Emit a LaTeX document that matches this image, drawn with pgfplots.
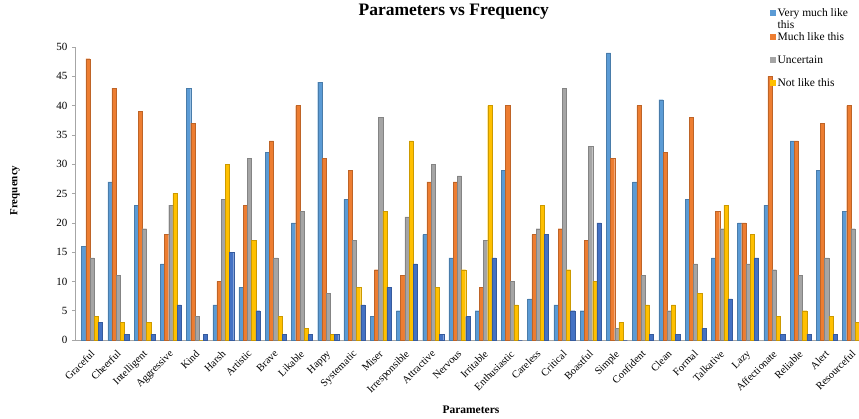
\documentclass[border=0pt]{standalone}
\usepackage{pgfplots}
\pgfplotsset{compat=1.18}
\usepackage{pgfplotstable}
\usepackage{fontspec}
\setmainfont{Liberation Serif}
\definecolor{c1}{HTML}{5B9BD5}
\definecolor{c2}{HTML}{ED7D31}
\definecolor{c3}{HTML}{A5A5A5}
\definecolor{c4}{HTML}{FFC000}
\definecolor{c5}{HTML}{4472C4}
\pgfplotstableread{
idx vm ml un nl na
0 16 48 14 4 3
1 27 43 11 3 1
2 23 39 19 3 1
3 13 18 23 25 6
4 43 37 4 0 1
5 6 10 24 30 15
6 9 23 31 17 5
7 32 34 14 4 1
8 20 40 22 2 1
9 44 31 8 1 1
10 24 29 17 9 6
11 4 12 38 22 9
12 5 11 21 34 13
13 18 27 30 9 1
14 14 27 28 12 4
15 5 9 17 40 14
16 29 40 10 6 0
17 7 18 19 23 18
18 6 19 43 12 5
19 5 17 33 10 20
20 49 31 2 3 0
21 27 40 11 6 1
22 41 32 5 6 1
23 24 38 13 8 2
24 14 22 19 23 7
25 20 20 13 18 14
26 23 45 12 4 1
27 34 34 11 5 1
28 29 37 14 4 1
29 22 40 19 3 0
}\datatable
\begin{document}
\begin{tikzpicture}
\useasboundingbox (-75bp,-79bp) rectangle (784bp,340bp);
\begin{axis}[
  at={(0,0)}, anchor=south west,
  scale only axis,
  width=784bp, height=293bp,
  ybar=0pt, bar width=0.16,
  xmin=-0.65, xmax=29.23,
  ymin=0, ymax=50,
  ytick={0,5,...,50},
  xtick=data,
  xticklabels={Graceful,Cheerful,Intelligent,Aggressive,Kind,Harsh,Artistic,Brave,Likable,Happy,Systematic,Miser,Irresponsible,Attractive,Nervous,Irritable,Enthusiastic,Careless,Critical,Boastful,Simple,Confident,Clean,Formal,Talkative,Lazy,Affectionate,Reliable,Alert,Resourceful},
  x tick label style={rotate=45, anchor=north east, font=\fontsize{10.5bp}{12bp}\selectfont, inner sep=1pt, yshift=-2bp, xshift=-5bp},
  y tick label style={font=\fontsize{11bp}{13bp}\selectfont, xshift=-1bp},
  /pgf/number format/assume math mode=true,
  major tick length=3bp, tick align=outside,
  xtick style={draw=none},
  ytick style={draw=gray!70, line width=0.5pt},
  axis x line*=bottom, axis y line*=left,
  x axis line style={draw=gray!70, -},
  y axis line style={draw=gray!70, -},
  title={Parameters vs Frequency},
  title style={font=\fontsize{17.5bp}{20bp}\selectfont\bfseries, at={(axis description cs:0.483,1.099)}, anchor=center},
  xlabel={Parameters},
  xlabel style={font=\fontsize{11.5bp}{13bp}\selectfont\bfseries, at={(axis description cs:0.505,-0.239)}, anchor=center},
  ylabel={Frequency},
  ylabel style={font=\fontsize{11bp}{13bp}\selectfont\bfseries, at={(axis description cs:-0.0765,0.51)}, anchor=center},
  legend style={at={(axis description cs:0.882,1.145)}, anchor=north west, draw=none, fill=none, font=\fontsize{11.5bp}{11bp}\selectfont, row sep=10bp, cells={anchor=west}},
  legend image code/.code={\fill[#1, draw=none] (0bp,-3bp) rectangle (6bp,3bp);},
  every axis plot/.append style={line width=0.3pt},
]
\addplot[fill=c1, draw=c1!80!black] table[x=idx,y=vm]{\datatable};
\addplot[fill=c2, draw=c2!80!black] table[x=idx,y=ml]{\datatable};
\addplot[fill=c3, draw=c3!80!black] table[x=idx,y=un]{\datatable};
\addplot[fill=c4, draw=c4!80!black] table[x=idx,y=nl]{\datatable};
\addplot[fill=c5, draw=c5!80!black] table[x=idx,y=na]{\datatable};
\legend{{\rlap{\smash{\raisebox{-12bp}{this}}}Very much like}, Much like this, Uncertain, Not like this}
\end{axis}
\end{tikzpicture}
\end{document}
